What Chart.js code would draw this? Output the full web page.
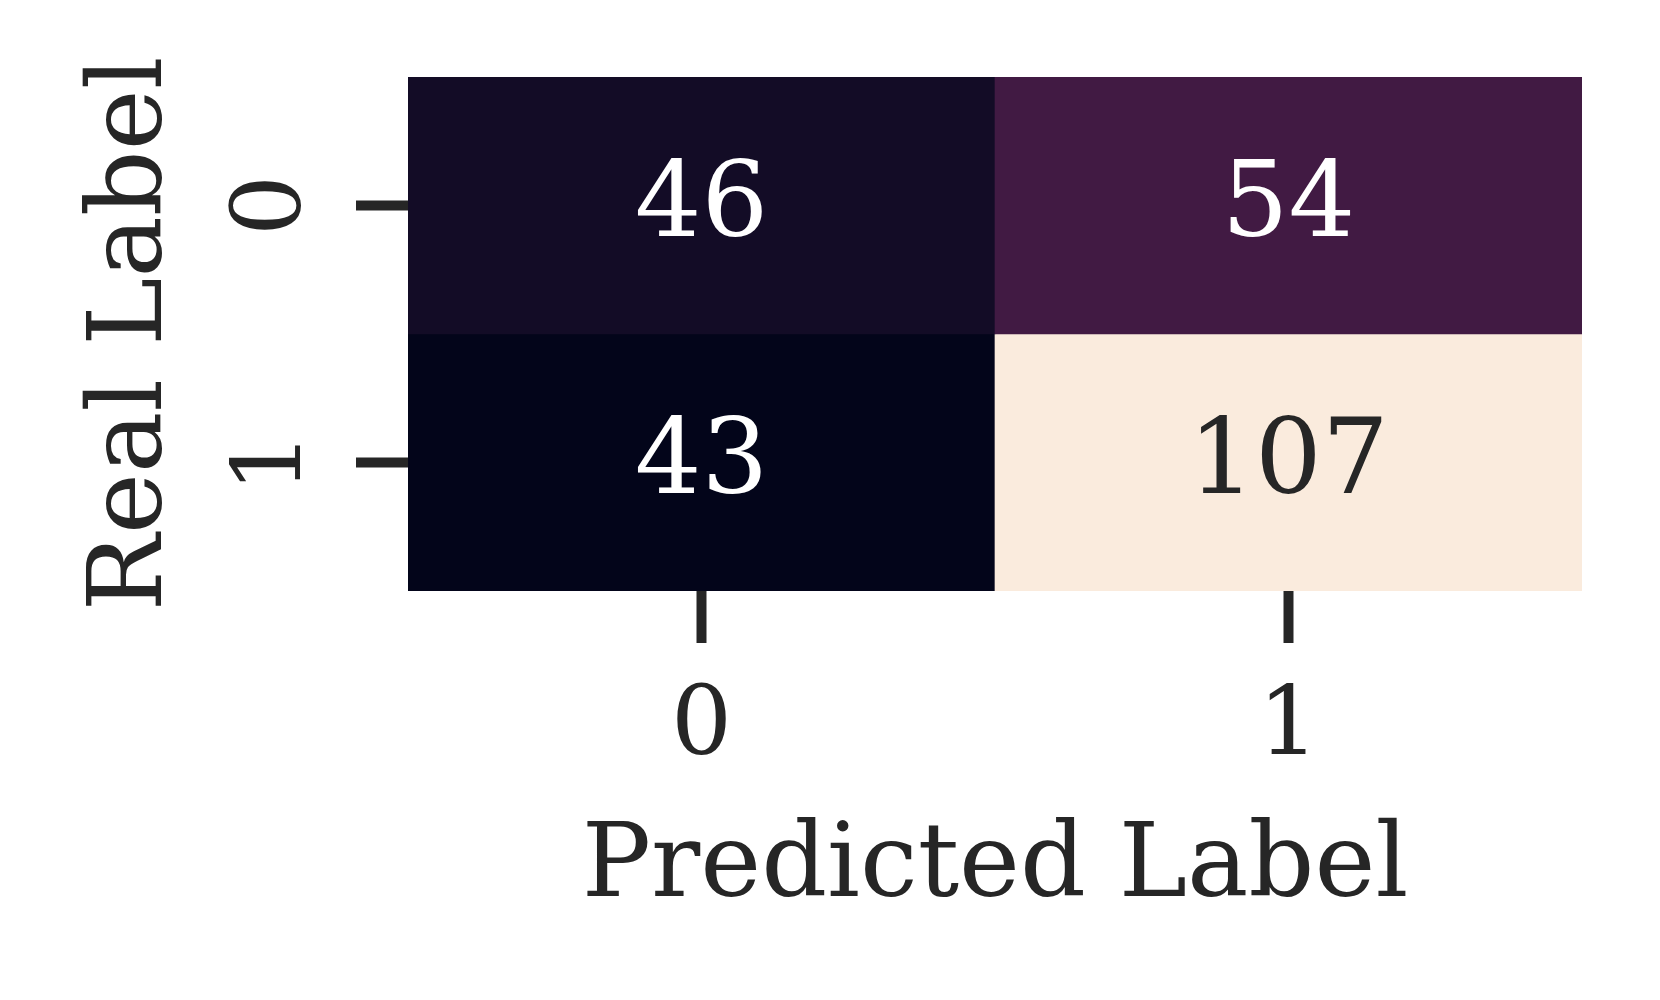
<!DOCTYPE html>
<html>
<head>
<meta charset="utf-8">
<title>Confusion matrix</title>
<script src="https://cdn.jsdelivr.net/npm/chart.js@4.4.1/dist/chart.umd.min.js"></script>
<style>
  body { margin: 0; background: #fff; }
  #wrap { width: 1660px; height: 1000px; }
</style>
</head>
<body>
<div id="wrap"><canvas id="cm" width="1660" height="1000"></canvas></div>
<script>
// labels and counts of the confusion matrix
const predLabels = ['0', '1'];
const realLabels = ['0', '1'];
const realRow0 = [46, 54];
const realRow1 = [43, 107];
const matrixRows = [realRow0, realRow1];

// seaborn "rocket" colormap, sampled
const rocketStops = [
  [0.0, '#03051a'], [1 / 7, '#35193e'], [2 / 7, '#701f57'], [3 / 7, '#ad1759'],
  [4 / 7, '#e13342'], [5 / 7, '#f37651'], [6 / 7, '#f6b48f'], [1.0, '#faebdd']
];

const INK = '#262626';
const FONT = "'DejaVu Serif', 'Liberation Serif', serif";

function hexToRgb(h) {
  return [parseInt(h.slice(1, 3), 16), parseInt(h.slice(3, 5), 16), parseInt(h.slice(5, 7), 16)];
}

function rocket(t) {
  t = Math.max(0, Math.min(1, t));
  for (let i = 1; i < rocketStops.length; i++) {
    const [p1, c1] = rocketStops[i];
    const [p0, c0] = rocketStops[i - 1];
    if (t <= p1) {
      const k = (t - p0) / (p1 - p0);
      const a = hexToRgb(c0), b = hexToRgb(c1);
      return a.map((v, j) => Math.round(v + (b[j] - v) * k));
    }
  }
  return hexToRgb(rocketStops[rocketStops.length - 1][1]);
}

// luminance test like seaborn uses to pick annotation colour
function isLight(rgb) {
  const lin = rgb.map(v => {
    v = v / 255;
    return v <= 0.03928 ? v / 12.92 : Math.pow((v + 0.055) / 1.055, 2.4);
  });
  return 0.2126 * lin[0] + 0.7152 * lin[1] + 0.0722 * lin[2] > 0.408;
}

const allVals = matrixRows.flat();
const vmin = Math.min(...allVals);
const vmax = Math.max(...allVals);

function cellRgb(v) {
  return rocket((v - vmin) / (vmax - vmin));
}

// one floating-bar dataset per real label row
const datasets = matrixRows.map((vals, r) => ({
  label: 'Real ' + realLabels[r],
  data: vals.map(() => [r, r + 1]),
  counts: vals,
  backgroundColor: vals.map(v => 'rgb(' + cellRgb(v).join(',') + ')'),
  borderWidth: 0,
  grouped: false,
  barPercentage: 1,
  categoryPercentage: 1
}));

// write the counts in the middle of each cell
const cellText = {
  id: 'cellText',
  afterDatasetsDraw(chart) {
    const ctx = chart.ctx;
    const xs = chart.scales.x, ys = chart.scales.y;
    const size = 105;
    ctx.save();
    ctx.font = size + 'px ' + FONT;
    ctx.textAlign = 'center';
    ctx.textBaseline = 'alphabetic';
    chart.data.datasets.forEach((ds, r) => {
      ds.counts.forEach((v, c) => {
        const x = xs.getPixelForValue(c);
        const y = ys.getPixelForValue(r + 0.5);
        ctx.fillStyle = isLight(cellRgb(v)) ? INK : '#ffffff';
        ctx.fillText(String(v), x, y + size * 0.29);
      });
    });
    ctx.restore();
  }
};

new Chart(document.getElementById('cm'), {
  type: 'bar',
  data: { labels: predLabels, datasets: datasets },
  plugins: [cellText],
  options: {
    responsive: false,
    animation: false,
    layout: { padding: { left: 30, right: 78, top: 77, bottom: 60 } },
    plugins: { legend: { display: false }, tooltip: { enabled: false } },
    scales: {
      x: {
        type: 'category',
        offset: true,
        grid: { display: true, drawOnChartArea: false, drawTicks: true, offset: false,
                tickLength: 52, tickWidth: 10, tickColor: INK },
        border: { display: false },
        ticks: { color: INK, font: { family: FONT, size: 96 }, padding: 28, maxRotation: 0 },
        title: { display: true, text: 'Predicted Label', color: INK,
                 font: { family: FONT, size: 103 }, padding: { top: 0, bottom: 9 } },
        afterFit(scale) { scale.height = 349; }
      },
      y: {
        type: 'linear',
        min: 0,
        max: 2,
        reverse: true,
        afterBuildTicks(scale) {
          scale.ticks = realLabels.map((l, i) => ({ value: i + 0.5 }));
        },
        grid: { display: true, drawOnChartArea: false, drawTicks: true,
                tickLength: 52, tickWidth: 10, tickColor: INK },
        border: { display: false },
        ticks: {
          color: INK, font: { family: FONT, size: 96 }, padding: 50,
          minRotation: 90, maxRotation: 90, crossAlign: 'center',
          callback: (v) => realLabels[Math.floor(v)]
        },
        title: { display: true, text: 'Real Label', color: INK,
                 font: { family: FONT, size: 103 }, padding: { top: 42, bottom: 0 } },
        afterFit(scale) {
          scale.width = 378;
          scale.paddingTop = 0;
          scale.paddingBottom = 0;
        }
      }
    }
  }
});
</script>
</body>
</html>
